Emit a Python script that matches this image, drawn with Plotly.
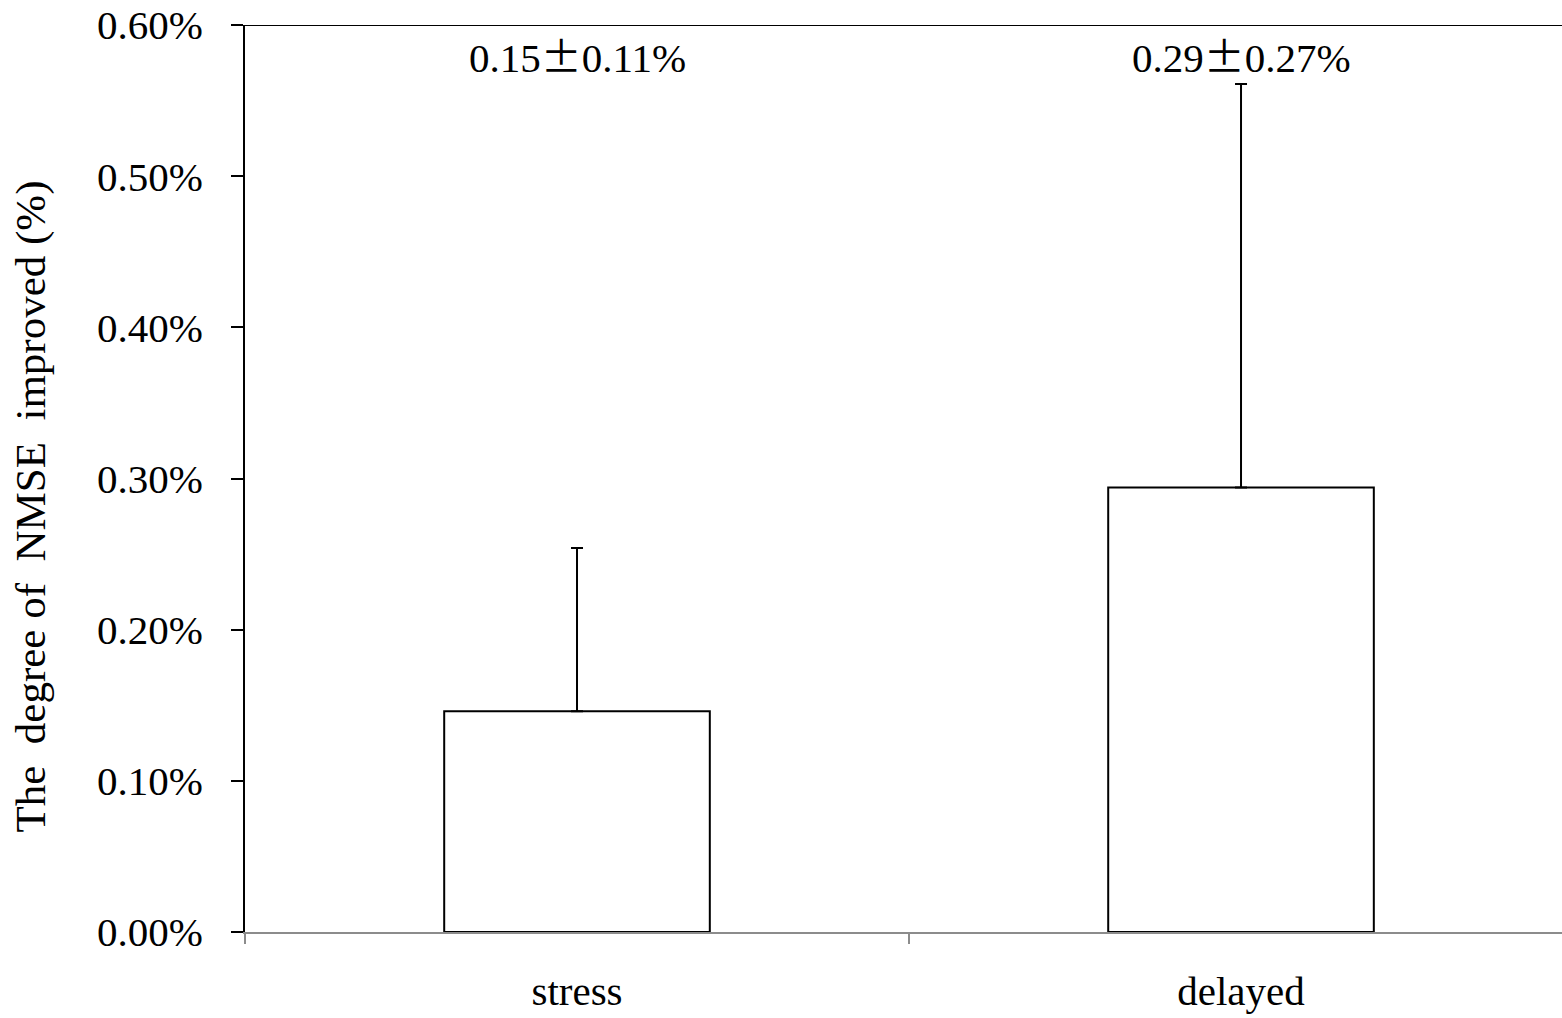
import plotly.graph_objects as go

# Data (percent units)
categories = ["stress", "delayed"]
mean_improvement = [0.146, 0.294]
sd_improvement = [0.108, 0.267]
y_ticks = [0.0, 0.1, 0.2, 0.3, 0.4, 0.5, 0.6]
y_tick_text = [f"{v:.2f}%" for v in y_ticks]
y_title = "The  degree of  NMSE  improved (%)"

FONT = "Liberation Serif, Times New Roman, serif"
PM = '<span style="font-family:\'Noto Sans CJK SC\'">±</span>'

fig = go.Figure()
fig.add_trace(go.Bar(
    x=categories,
    y=mean_improvement,
    width=0.4,
    marker=dict(color="white", line=dict(color="black", width=2)),
    error_y=dict(
        type="data",
        symmetric=False,
        array=sd_improvement,
        arrayminus=[0] * len(sd_improvement),
        color="black",
        thickness=2,
        width=6,
    ),
    showlegend=False,
))

# mean ± sd labels above each bar
for cat, m, s in zip(categories, mean_improvement, sd_improvement):
    fig.add_annotation(
        x=cat, y=0.581, xref="x", yref="y",
        text=f"{m:.2f}{PM}{s:.2f}%",
        showarrow=False,
        font=dict(family=FONT, size=41, color="black"),
        xanchor="center", yanchor="middle",
    )

# vertical axis title
fig.add_annotation(
    xref="paper", yref="paper", x=0, y=0.5,
    xshift=-215, yshift=-28, text=y_title, textangle=-90,
    showarrow=False,
    font=dict(family=FONT, size=43, color="black"),
    xanchor="center", yanchor="middle",
)

# top frame line
fig.add_shape(type="line", xref="paper", yref="y", x0=0, x1=1, y0=0.6, y1=0.6,
              line=dict(color="black", width=2))

fig.update_layout(
    width=1562, height=1018,
    margin=dict(l=245, r=0, t=25, b=86),
    paper_bgcolor="white", plot_bgcolor="white",
    font=dict(family=FONT, size=41, color="black"),
    bargap=0.6,
)
fig.update_xaxes(
    type="category",
    range=[-0.5, 1.4834],
    tickson="boundaries",
    ticks="outside", ticklen=10, tickcolor="#8c8c8c", tickwidth=2,
    showline=True, linecolor="#8c8c8c", linewidth=2,
    showgrid=False, zeroline=False,
    tickfont=dict(family=FONT, size=41, color="black"),
    ticklabelstandoff=22,
)
fig.update_yaxes(
    range=[0, 0.6],
    tickvals=y_ticks,
    ticktext=y_tick_text,
    ticks="outside", ticklen=12, tickcolor="black", tickwidth=2,
    showline=True, linecolor="black", linewidth=2,
    showgrid=False, zeroline=False,
    tickfont=dict(family=FONT, size=41, color="black"),
    ticklabelstandoff=20,
)

fig.write_html("out.html")
